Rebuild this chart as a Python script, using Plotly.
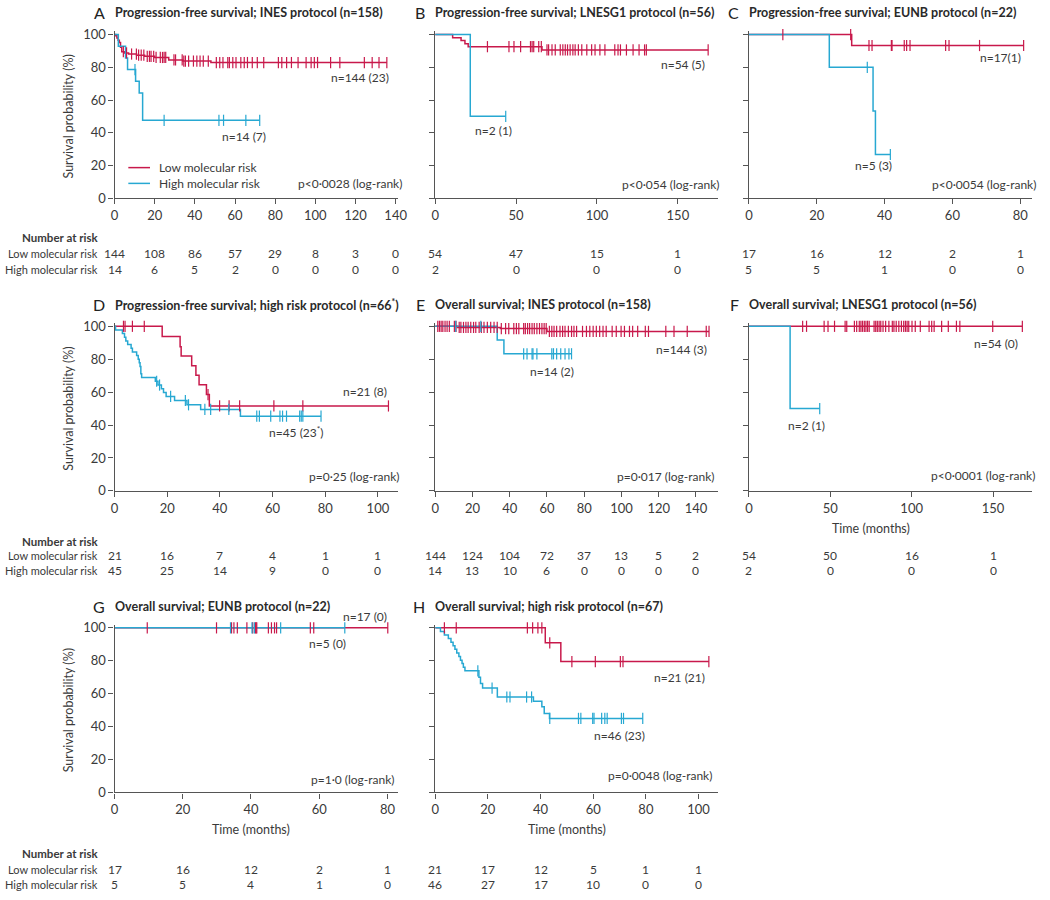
import plotly.graph_objects as go

W, H = 1050, 900
RED = "#c8194b"
BLUE = "#27a8d2"
AX = "#555555"
TXT = "#3a3a3a"
FONT = "Lato, 'Open Sans', sans-serif"

# ---------------- data (times in months, survival in %) ----------------
# Panel A – PFS, INES
A_low_event_t = [0.6, 1.2, 1.8, 2.4, 3.0, 3.6, 5.0, 7.0, 11.0, 15.0, 20.0, 27.0, 34.0, 48.0]
A_low_event_s = [99.3, 97.9, 96.5, 95.1, 92.3, 89.5, 88.8, 88.1, 87.4, 86.7, 86.0, 84.5, 83.8, 82.9]
A_low_cens = [4.4, 6.0, 8.5, 10.9, 12.0, 13.3, 14.6, 16.3, 17.4, 18.2, 19.5, 20.7, 22.8, 23.9, 24.7,
              25.5, 29.6, 30.4, 33.7, 34.5, 35.3, 36.9, 39.3, 41.0, 42.6, 44.2, 46.7, 50.7, 52.4, 54.0,
              56.4, 57.2, 58.9, 60.5, 62.9, 64.6, 66.2, 68.6, 71.1, 74.3, 81.6, 83.3, 85.7, 88.1, 91.4,
              95.4, 97.9, 99.5, 101.1, 107.6, 112.2, 124.4, 128.3, 131.7, 135.6]
A_low_end = 135.6
A_high_event_t = [1.9, 5.5, 6.5, 10.5, 12.3, 14.0]
A_high_event_s = [92.9, 85.7, 78.6, 71.4, 64.3, 47.6]
A_high_cens = [10.2, 24.7, 52.0, 54.3, 65.4, 72.3]
A_high_end = 72.3

# Panel B – PFS, LNESG1
B_low_event_t = [10.8, 16.0, 18.4, 20.4, 66.0]
B_low_event_s = [98.1, 96.3, 94.4, 92.6, 90.6]
B_low_cens = [32.3, 45.6, 48.7, 52.8, 58.9, 59.9, 60.9, 64.0, 65.6, 69.1, 70.1, 72.2, 74.2, 77.3, 78.9,
              80.4, 81.8, 83.4, 85.1, 86.5, 88.5, 90.6, 93.7, 96.7, 98.8, 101.8, 104.9, 111.0, 113.0,
              114.5, 118.2, 122.3, 126.0, 129.4, 130.5, 168.7]
B_low_end = 168.7
B_high_event_t = [21.7]
B_high_event_s = [50.0]
B_high_cens = [43.6]
B_high_end = 43.6

# Panel C – PFS, EUNB
C_low_event_t = [30.3]
C_low_event_s = [93.3]
C_low_cens = [10.0, 30.0, 35.4, 36.3, 42.0, 42.2, 45.8, 46.5, 47.5, 58.0, 59.0, 68.0, 81.0]
C_low_end = 81.0
C_high_event_t = [23.7, 36.6, 37.3]
C_high_event_s = [80.0, 53.3, 26.7]
C_high_cens = [34.9, 41.7]
C_high_end = 41.7

# Panel D – PFS, high risk
D_low_event_t = [18.1, 24.9, 25.3, 29.3, 30.9, 32.1, 34.9, 36.0]
D_low_event_s = [93.8, 87.5, 81.9, 76.0, 70.2, 64.5, 58.5, 51.6]
D_low_cens = [3.4, 4.0, 6.8, 11.3, 35.5, 39.9, 43.5, 47.5, 60.5, 71.5, 104.0]
D_low_end = 104.0
D_high_event_t = [0.4, 3.0, 3.8, 4.3, 5.0, 6.3, 6.8, 8.4, 9.0, 9.4, 9.7, 10.0, 10.3, 15.5, 16.5, 17.8,
                  18.6, 19.6, 22.8, 27.5, 32.7, 47.8]
D_high_event_s = [97.8, 95.6, 93.3, 91.1, 88.9, 86.7, 84.4, 82.2, 80.0, 77.8, 75.6, 71.1, 68.9, 66.6,
                  64.3, 62.0, 59.7, 57.4, 54.9, 52.3, 49.5, 45.4]
D_high_cens = [16.0, 17.1, 21.3, 26.9, 28.1, 34.3, 36.5, 43.4, 54.0, 55.0, 59.3, 62.8, 63.8, 65.3,
               70.3, 70.9, 71.5, 78.4]
D_high_end = 78.4

# Panel E – OS, INES
E_low_event_t = [12.0, 35.0, 60.0]
E_low_event_s = [99.3, 98.6, 96.9]
E_low_cens = [1.4, 2.3, 3.2, 4.1, 5.3, 6.4, 7.6, 10.3, 11.2, 12.9, 13.8, 15.2, 16.5, 17.7, 19.1, 20.6,
              21.8, 23.6, 24.8, 26.2, 28.0, 29.8, 31.6, 33.3, 35.5, 37.8, 39.5, 42.2, 43.6, 44.9, 47.5,
              48.4, 49.6, 50.7, 52.0, 53.2, 54.6, 56.0, 57.3, 58.5, 59.6, 61.3, 62.6, 63.8, 65.2, 67.0,
              68.4, 69.7, 71.5, 73.2, 74.5, 75.9, 79.1, 81.2, 83.0, 84.8, 86.5, 88.3, 90.1, 91.8, 95.0,
              97.2, 99.8, 101.6, 104.3, 106.0, 108.7, 112.8, 114.5, 123.8, 128.2, 135.3, 145.5, 147.0]
E_low_end = 147.0
E_high_event_t = [33.3, 36.9]
E_high_event_s = [91.7, 83.3]
E_high_cens = [11.0, 24.5, 47.5, 49.3, 52.0, 52.5, 54.6, 62.6, 63.5, 65.2, 67.4, 69.7, 71.8, 73.2]
E_high_end = 73.2

# Panel F – OS, LNESG1
F_low_event_t = []
F_low_event_s = []
F_low_cens = [33.0, 35.4, 46.2, 48.6, 52.6, 59.1, 60.1, 64.8, 66.2, 67.8, 68.8, 69.8, 70.9, 71.9, 72.9,
              73.9, 76.9, 77.9, 78.9, 80.0, 81.0, 82.4, 84.0, 86.0, 88.1, 89.1, 90.5, 92.1, 93.7, 95.1,
              96.2, 97.2, 98.2, 100.2, 102.2, 105.3, 110.7, 112.3, 113.8, 118.4, 122.5, 127.5, 129.6,
              149.8, 168.0]
F_low_end = 168.0
F_high_event_t = [25.3]
F_high_event_s = [50.0]
F_high_cens = [43.5]
F_high_end = 43.5

# Panel G – OS, EUNB
G_low_event_t = []
G_low_event_s = []
G_low_cens = [9.6, 29.9, 34.3, 35.0, 36.0, 38.8, 40.5, 41.3, 41.5, 41.7, 45.1, 46.0, 46.9, 47.5, 57.4,
              58.4, 80.1]
G_low_end = 80.1
G_high_event_t = []
G_high_event_s = []
G_high_cens = [34.0, 40.3, 41.0, 48.7, 67.5]
G_high_end = 67.5

# Panel H – OS, high risk
H_low_event_t = [41.8, 47.7]
H_low_event_s = [90.9, 79.5]
H_low_cens = [3.5, 8.0, 35.0, 37.0, 39.0, 40.5, 43.5, 51.9, 60.8, 70.3, 71.3, 103.9]
H_low_end = 103.9
H_high_event_t = [2.0, 3.5, 5.0, 6.0, 6.8, 7.5, 8.2, 9.0, 9.6, 10.2, 10.7, 11.3, 16.6, 17.2, 18.0,
                  23.6, 37.3, 40.5, 41.4, 43.4]
H_high_event_s = [97.8, 95.7, 93.5, 91.3, 89.1, 87.0, 84.8, 82.6, 80.4, 78.3, 76.1, 73.9, 70.0, 66.2,
                  63.4, 58.0, 55.4, 52.0, 48.0, 45.0]
H_high_cens = [16.2, 21.6, 27.2, 28.4, 34.7, 36.6, 43.5, 54.4, 55.3, 59.8, 60.3, 63.2, 64.4, 65.3,
               70.7, 71.5, 78.8]
H_high_end = 78.8

# Number-at-risk tables
A_risk_t = [0, 20, 40, 60, 80, 100, 120, 140]
A_risk_low = [144, 108, 86, 57, 29, 8, 3, 0]
A_risk_high = [14, 6, 5, 2, 0, 0, 0, 0]
B_risk_t = [0, 50, 100, 150]
B_risk_low = [54, 47, 15, 1]
B_risk_high = [2, 0, 0, 0]
C_risk_t = [0, 20, 40, 60, 80]
C_risk_low = [17, 16, 12, 2, 1]
C_risk_high = [5, 5, 1, 0, 0]
D_risk_t = [0, 20, 40, 60, 80, 100]
D_risk_low = [21, 16, 7, 4, 1, 1]
D_risk_high = [45, 25, 14, 9, 0, 0]
E_risk_t = [0, 20, 40, 60, 80, 100, 120, 140]
E_risk_low = [144, 124, 104, 72, 37, 13, 5, 2]
E_risk_high = [14, 13, 10, 6, 0, 0, 0, 0]
F_risk_t = [0, 50, 100, 150]
F_risk_low = [54, 50, 16, 1]
F_risk_high = [2, 0, 0, 0]
G_risk_t = [0, 20, 40, 60, 80]
G_risk_low = [17, 16, 12, 2, 1]
G_risk_high = [5, 5, 4, 1, 0]
H_risk_t = [0, 20, 40, 60, 80, 100]
H_risk_low = [21, 17, 12, 5, 1, 1]
H_risk_high = [46, 27, 17, 10, 0, 0]

# ---------------- layout geometry (pixels) ----------------
COL_X0 = [112, 437, 755]
COL_W = 287
ROW_Y100 = [30, 326, 632]
ROW_Y0 = [196, 493, 799]
YMAX = 102

def px(x):
    return x / W

def py(y):
    return 1 - y / H

panels = [
    dict(k="A", r=0, c=0, xmax=141, tickmax=140, dt=20,
         title="Progression-free survival; INES protocol (n=158)",
         low=(A_low_event_t, A_low_event_s, A_low_cens, A_low_end),
         high=(A_high_event_t, A_high_event_s, A_high_cens, A_high_end),
         risk=(A_risk_t, A_risk_low, A_risk_high),
         notes=[("n=144 (23)", 392, 74, "right"), ("n=14 (7)", 219, 133, "left"),
                ("p<0·0028 (log-rank)", 405, 181, "right")]),
    dict(k="B", r=0, c=1, xmax=175, tickmax=150, dt=50,
         title="Progression-free survival; LNESG1 protocol (n=56)",
         low=(B_low_event_t, B_low_event_s, B_low_cens, B_low_end),
         high=(B_high_event_t, B_high_event_s, B_high_cens, B_high_end),
         risk=(B_risk_t, B_risk_low, B_risk_high),
         notes=[("n=54 (5)", 712, 60, "right"), ("n=2 (1)", 475, 127, "left"),
                ("p<0·054 (log-rank)", 727, 182, "right")]),
    dict(k="C", r=0, c=2, xmax=83.5, tickmax=80, dt=20,
         title="Progression-free survival; EUNB protocol (n=22)",
         low=(C_low_event_t, C_low_event_s, C_low_cens, C_low_end),
         high=(C_high_event_t, C_high_event_s, C_high_cens, C_high_end),
         risk=(C_risk_t, C_risk_low, C_risk_high),
         notes=[("n=17(1)", 1033, 53, "right"), ("n=5 (3)", 860, 163, "left"),
                ("p<0·0054 (log-rank)", 1048, 182, "right")]),
    dict(k="D", r=1, c=0, xmax=107.5, tickmax=100, dt=20,
         title="Progression-free survival; high risk protocol (n=66<sup>*</sup>)",
         low=(D_low_event_t, D_low_event_s, D_low_cens, D_low_end),
         high=(D_high_event_t, D_high_event_s, D_high_cens, D_high_end),
         risk=(D_risk_t, D_risk_low, D_risk_high),
         notes=[("n=21 (8)", 390, 392, "right"), ("n=45 (23<sup>*</sup>)", 267, 433, "left"),
                ("p=0·25 (log-rank)", 403, 478, "right")]),
    dict(k="E", r=1, c=1, xmax=152, tickmax=140, dt=20,
         title="Overall survival; INES protocol (n=158)",
         low=(E_low_event_t, E_low_event_s, E_low_cens, E_low_end),
         high=(E_high_event_t, E_high_event_s, E_high_cens, E_high_end),
         risk=(E_risk_t, E_risk_low, E_risk_high),
         notes=[("n=144 (3)", 715, 350, "right"), ("n=14 (2)", 531, 372, "left"),
                ("p=0·017 (log-rank)", 722, 478, "right")]),
    dict(k="F", r=1, c=2, xmax=174, tickmax=150, dt=50,
         title="Overall survival; LNESG1 protocol (n=56)",
         low=(F_low_event_t, F_low_event_s, F_low_cens, F_low_end),
         high=(F_high_event_t, F_high_event_s, F_high_cens, F_high_end),
         risk=(F_risk_t, F_risk_low, F_risk_high), xtitle=True,
         notes=[("n=54 (0)", 1030, 343, "right"), ("n=2 (1)", 793, 427, "left"),
                ("p<0·0001 (log-rank)", 1047, 477, "right")]),
    dict(k="G", r=2, c=0, xmax=83, tickmax=80, dt=20,
         title="Overall survival; EUNB protocol (n=22)",
         low=(G_low_event_t, G_low_event_s, G_low_cens, G_low_end),
         high=(G_high_event_t, G_high_event_s, G_high_cens, G_high_end),
         risk=(G_risk_t, G_risk_low, G_risk_high), xtitle=True,
         notes=[("n=17 (0)", 390, 620, "right"), ("n=5 (0)", 307, 648, "left"),
                ("p=1·0 (log-rank)", 398, 786, "right")]),
    dict(k="H", r=2, c=1, xmax=107.5, tickmax=100, dt=20,
         title="Overall survival; high risk protocol (n=67)",
         low=(H_low_event_t, H_low_event_s, H_low_cens, H_low_end),
         high=(H_high_event_t, H_high_event_s, H_high_cens, H_high_end),
         risk=(H_risk_t, H_risk_low, H_risk_high), xtitle=True,
         notes=[("n=21 (21)", 713, 682, "right"), ("n=46 (23)", 596, 741, "left"),
                ("p=0·0048 (log-rank)", 720, 782, "right")]),
]

# risk-table row positions (NAR header, low, high) per panel row
RISK_Y = [(236, 252, 268), (544, 559, 574), (861, 877, 892)]


def surv_at(t, ev_t, ev_s):
    s = 100.0
    for ti, si in zip(ev_t, ev_s):
        if ti <= t:
            s = si
    return s


fig = go.Figure()
annotations = []
shapes = []
layout = {}


def ann(text, x, y, xanchor="left", size=12, color=TXT, **kw):
    d = dict(text=text, x=px(x), y=py(y), xref="paper", yref="paper", xanchor=xanchor,
             yanchor="middle", showarrow=False, font=dict(family=FONT, size=size, color=color))
    d.update(kw)
    annotations.append(d)


for i, p in enumerate(panels):
    n = i + 1
    xa = "x" if n == 1 else f"x{n}"
    ya = "y" if n == 1 else f"y{n}"
    x0 = COL_X0[p["c"]]
    y100 = ROW_Y100[p["r"]]
    y0 = ROW_Y0[p["r"]]
    ytop = y100 - (YMAX - 100) * (y0 - y100) / 100.0

    axis_common = dict(showline=True, linecolor=AX, linewidth=1.2, ticks="outside", ticklen=5,
                       tickwidth=1.2, tickcolor=AX, showgrid=False, zeroline=False,
                       tickfont=dict(family=FONT, size=13, color=TXT))
    layout["xaxis" if n == 1 else f"xaxis{n}"] = dict(
        axis_common, domain=[px(x0), px(x0 + COL_W)], range=[0, p["xmax"]],
        tickvals=list(range(0, p["tickmax"] + 1, p["dt"])), anchor=ya)
    layout["yaxis" if n == 1 else f"yaxis{n}"] = dict(
        axis_common, domain=[py(y0), py(ytop)], range=[0, YMAX],
        tickvals=[0, 20, 40, 60, 80, 100], showticklabels=(p["c"] == 0), anchor=xa)

    # curves
    for grp, col in (("low", RED), ("high", BLUE)):
        ev_t, ev_s, cens, end = p[grp]
        xs = [0] + list(ev_t) + [end]
        ys = [100] + list(ev_s) + [ev_s[-1] if ev_s else 100]
        fig.add_trace(go.Scatter(x=xs, y=ys, mode="lines", line=dict(color=col, width=1.5, shape="hv"),
                                 xaxis=xa, yaxis=ya, showlegend=False, hoverinfo="skip"))
    for grp, col in (("low", RED), ("high", BLUE)):
        ev_t, ev_s, cens, end = p[grp]
        cy = [surv_at(t, ev_t, ev_s) for t in cens]
        fig.add_trace(go.Scatter(x=cens, y=cy, mode="markers", cliponaxis=False,
                                 marker=dict(symbol="line-ns-open", size=8, color=col,
                                             line=dict(color=col, width=1.2)),
                                 xaxis=xa, yaxis=ya, showlegend=False, hoverinfo="skip"))

    # titles
    title_y = y100 - 22
    ann(p["k"], x0 - 8, title_y, xanchor="right", size=16, color="#222222")
    ann("<b>" + p["title"] + "</b>", x0 - 2, title_y, xanchor="left", size=12.5, color="#2a2a2a")

    # y-axis title
    if p["c"] == 0:
        ann("Survival probability (%)", 65, (y100 + y0) / 2, xanchor="center", size=12.5, textangle=-90)

    if p.get("xtitle"):
        xc = x0 + (p["tickmax"] / p["xmax"]) * COL_W / 2
        ann("Time (months)", xc, y0 + 38, xanchor="center", size=12.5)

    for text, x, y, anc in p["notes"]:
        ann(text, x, y, xanchor=anc, size=12)

    # number-at-risk table
    rt, rl, rh = p["risk"]
    yn, yl, yh = RISK_Y[p["r"]]
    for t, vl, vh in zip(rt, rl, rh):
        for v, yy in ((vl, yl), (vh, yh)):
            annotations.append(dict(text=str(v), x=t, y=py(yy), xref=xa, yref="paper", xanchor="center",
                                    yanchor="middle", showarrow=False,
                                    font=dict(family=FONT, size=12, color=TXT)))
    if p["c"] == 0:
        ann("<b>Number at risk</b>", 97, yn, xanchor="right", size=11.5)
        ann("Low molecular risk", 97, yl, xanchor="right", size=11)
        ann("High molecular risk", 97, yh, xanchor="right", size=11)

# legend in panel A (drawn manually)
for label, col, yy in (("Low molecular risk", RED, 165), ("High molecular risk", BLUE, 181)):
    shapes.append(dict(type="line", xref="paper", yref="paper", x0=px(126), x1=px(148), y0=py(yy), y1=py(yy),
                       line=dict(color=col, width=1.5)))
    ann(label, 155, yy, xanchor="left", size=12)

fig.update_layout(
    width=W, height=H, margin=dict(l=0, r=0, t=0, b=0),
    paper_bgcolor="white", plot_bgcolor="white",
    font=dict(family=FONT, color=TXT),
    showlegend=False, annotations=annotations, shapes=shapes, **layout)

fig.write_html("out.html", config={"displayModeBar": False},
               post_script="document.body.style.margin='0';document.body.style.overflow='hidden';")
